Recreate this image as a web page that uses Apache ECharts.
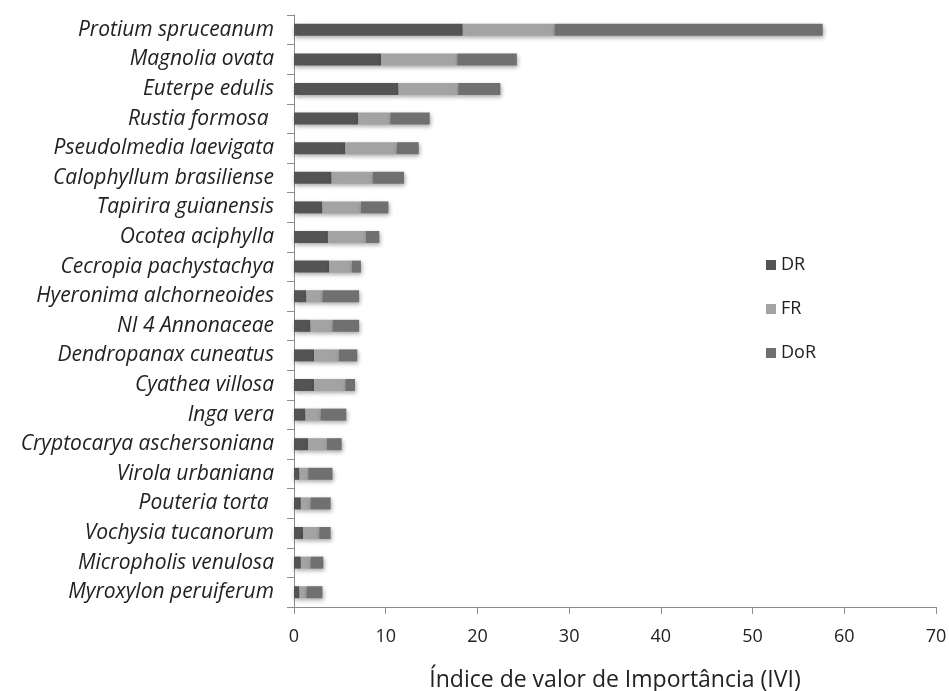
<!DOCTYPE html>
<html>
<head>
<meta charset="utf-8">
<script src="https://cdn.jsdelivr.net/npm/echarts@6/dist/echarts.min.js"></script>
<style>html,body{margin:0;padding:0;background:#fff}#c{width:949px;height:691px}</style>
</head>
<body>
<div id="c"></div>
<script>
const species = ["Protium spruceanum","Magnolia ovata","Euterpe edulis","Rustia formosa ","Pseudolmedia laevigata","Calophyllum brasiliense","Tapirira guianensis","Ocotea aciphylla","Cecropia pachystachya","Hyeronima alchorneoides","NI 4 Annonaceae","Dendropanax cuneatus","Cyathea villosa","Inga vera","Cryptocarya aschersoniana","Virola urbaniana","Pouteria torta ","Vochysia tucanorum","Micropholis venulosa","Myroxylon peruiferum"];
const DR  = [18.4, 9.5, 11.4, 7.0, 5.6, 4.1, 3.1, 3.7, 3.85, 1.35, 1.8, 2.2, 2.2, 1.25, 1.55, 0.6, 0.75, 1.0, 0.75, 0.6];
const FR  = [10.0, 8.3, 6.5, 3.5, 5.6, 4.5, 4.2, 4.15, 2.45, 1.75, 2.4, 2.7, 3.4, 1.65, 2.05, 0.95, 1.05, 1.75, 1.05, 0.75];
const DoR = [29.25, 6.5, 4.6, 4.3, 2.4, 3.4, 3.0, 1.45, 1.0, 4.0, 2.9, 2.0, 1.05, 2.8, 1.6, 2.65, 2.2, 1.25, 1.4, 1.75];
const seriesNames = ["DR","FR","DoR"];
const xTicks = {min: 0, max: 70, interval: 10};
const axisTitle = "Índice de valor de Importância (IVI)";

const colors = ["#545454", "#a3a3a3", "#707070"];
const FONT = "Open Sans";
const chart = echarts.init(document.getElementById('c'), null, {renderer: 'canvas'});
const mk = (name, data, i) => ({
  name, type: 'bar', stack: 'total', data, barWidth: 12,
  itemStyle: {color: colors[i], shadowBlur: 4, shadowColor: 'rgba(0,0,0,0.35)', shadowOffsetX: 1, shadowOffsetY: 2},
  emphasis: {disabled: true}
});
chart.setOption({
  animation: false,
  grid: {left: 294, right: 13, top: 15, bottom: 84, containLabel: false, outerBoundsMode: 'none'},
  legend: {
    orient: 'vertical', left: 761, top: 251, itemGap: 26, itemWidth: 10, itemHeight: 10,
    icon: 'rect',
    textStyle: {fontFamily: FONT, fontSize: 18, color: '#222'},
    data: seriesNames
  },
  xAxis: {
    type: 'value', min: xTicks.min, max: xTicks.max, interval: xTicks.interval,
    name: axisTitle, nameLocation: 'middle', nameGap: 62,
    nameTextStyle: {fontFamily: FONT, fontSize: 23, color: '#222'},
    axisLine: {show: true, lineStyle: {color: '#8c8c8c'}},
    axisTick: {show: true, length: 7, lineStyle: {color: '#8c8c8c'}},
    axisLabel: {fontFamily: FONT, fontSize: 18, color: '#222', margin: 21},
    splitLine: {show: false}
  },
  yAxis: {
    type: 'category', data: species, inverse: true,
    axisLine: {show: true, lineStyle: {color: '#8c8c8c'}},
    axisTick: {show: true, length: 7, lineStyle: {color: '#8c8c8c'}},
    axisLabel: {fontFamily: FONT, fontStyle: 'italic', fontSize: 21, color: '#222', margin: 20, padding: [5, 0, 0, 0]}
  },
  series: [mk(seriesNames[0], DR, 0), mk(seriesNames[1], FR, 1), mk(seriesNames[2], DoR, 2)]
});
</script>
</body>
</html>
